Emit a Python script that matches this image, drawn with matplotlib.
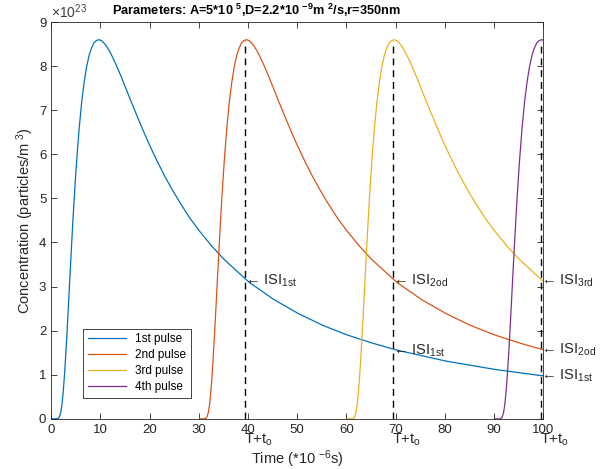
import numpy as np
import matplotlib.pyplot as plt

plt.rcParams['font.family'] = 'Liberation Sans'
plt.rcParams['mathtext.fontset'] = 'custom'
plt.rcParams['mathtext.rm'] = 'Liberation Sans'
plt.rcParams['mathtext.it'] = 'Liberation Sans:italic'
plt.rcParams['mathtext.bf'] = 'Liberation Sans:bold'
plt.rcParams['mathtext.default'] = 'regular'

# single pulse response (time after release in us, concentration in 1e23 particles/m^3)
pulse_t = [0, 0.5, 1, 1.25, 1.5, 1.75, 2, 2.25, 2.5, 2.75, 3, 3.25, 3.5, 3.75, 4, 4.25,
           4.5, 4.75, 5, 5.5, 6, 6.5, 7, 7.5, 8, 8.5, 9, 9.5, 10, 10.5, 11, 11.5, 12, 13,
           14, 15, 16, 17, 18, 19, 20, 21.5, 23, 24.5, 26, 28, 30, 32.5, 35, 40, 45, 50,
           55, 60, 65, 70, 80, 90, 100]
pulse_c = [0, 0, 0, 0.01, 0.05, 0.15, 0.33, 0.61, 0.98, 1.42, 1.91, 2.44, 2.98, 3.52, 4.04,
           4.55, 5.03, 5.47, 5.88, 6.60, 7.18, 7.63, 7.98, 8.24, 8.41, 8.53, 8.58, 8.60, 8.58,
           8.53, 8.46, 8.37, 8.27, 8.03, 7.77, 7.49, 7.21, 6.94, 6.67, 6.41, 6.16, 5.81, 5.48,
           5.18, 4.90, 4.55, 4.25, 3.91, 3.61, 3.10, 2.71, 2.39, 2.12, 1.90, 1.72, 1.56, 1.31,
           1.12, 0.97]

pulse_start = [0.2, 30.2, 60.2, 90.2]
pulse_names = ['1st pulse', '2nd pulse', '3rd pulse', '4th pulse']
colors = ['#0072BD', '#D95319', '#EDB120', '#7E2F8E']

# T + t_o marker lines
t_marks = [39.45, 69.45, 99.45]
t_mark_top = [8.58, 8.58, 8.58]

# ISI readings at the marker lines
isi_x = [39.45, 69.45, 69.45, 99.45, 99.45, 99.45]
isi_y = [3.13, 3.13, 1.55, 3.13, 1.56, 0.97]
isi_sub = ['1st', '2od', '1st', '3rd', '2od', '1st']

dark = '#262626'

fig = plt.figure(figsize=(6.09, 4.69), dpi=100)
ax = fig.add_axes([0.084, 0.107, 0.808, 0.846])

for start, name, c in zip(pulse_start, pulse_names, colors):
    t = np.array(pulse_t) + start
    ax.plot(t, pulse_c, color=c, lw=0.9, label=name)

for x, top in zip(t_marks, t_mark_top):
    ax.plot([x, x], [0, top], color='k', lw=1.0, linestyle=(0, (5, 3.5)))
    ax.text(x - 0.2, -0.48, r'T+t$_{o}$', ha='left', va='center', fontsize=10.5,
            color=dark, clip_on=False)

for x, y, s in zip(isi_x, isi_y, isi_sub):
    ax.text(x, y, '\u2190 ISI$_{%s}$' % s, ha='left', va='center', fontsize=10.5,
            color=dark, clip_on=False)

ax.set_xlim(0, 100)
ax.set_ylim(0, 9)
ax.set_xticks(np.arange(0, 101, 10))
ax.set_yticks(np.arange(0, 10, 1))
ax.tick_params(direction='in', top=True, right=True, length=4, width=0.6,
               colors=dark, labelsize=9.5)
for sp in ax.spines.values():
    sp.set_color(dark)
    sp.set_linewidth(0.6)

ax.text(0.0, 1.003, r'$\times10^{23}$', transform=ax.transAxes, ha='left',
        va='bottom', fontsize=10, color='#404040')
ax.set_title(r'Parameters: A=5*10 $^{5}$,D=2.2*10 $^{-9}$m $^{2}$/s,r=350nm',
             x=0.417, pad=5, fontsize=9.2, fontweight='bold', color='k')
ax.set_xlabel(r'Time (*10 $^{-6}$s)', fontsize=10.5, color=dark, labelpad=9)
ax.set_ylabel(r'Concentration (particles/m $^{3}$)', fontsize=10.5, color=dark, labelpad=2)

leg = ax.legend(loc='lower left', bbox_to_anchor=(0.065, 0.053), fontsize=8.5,
                handlelength=3.2, labelspacing=0.33, borderpad=0.4, fancybox=False,
                framealpha=1, edgecolor=dark, borderaxespad=0)
leg.get_frame().set_linewidth(0.6)

fig.savefig('out.png', dpi=100)
